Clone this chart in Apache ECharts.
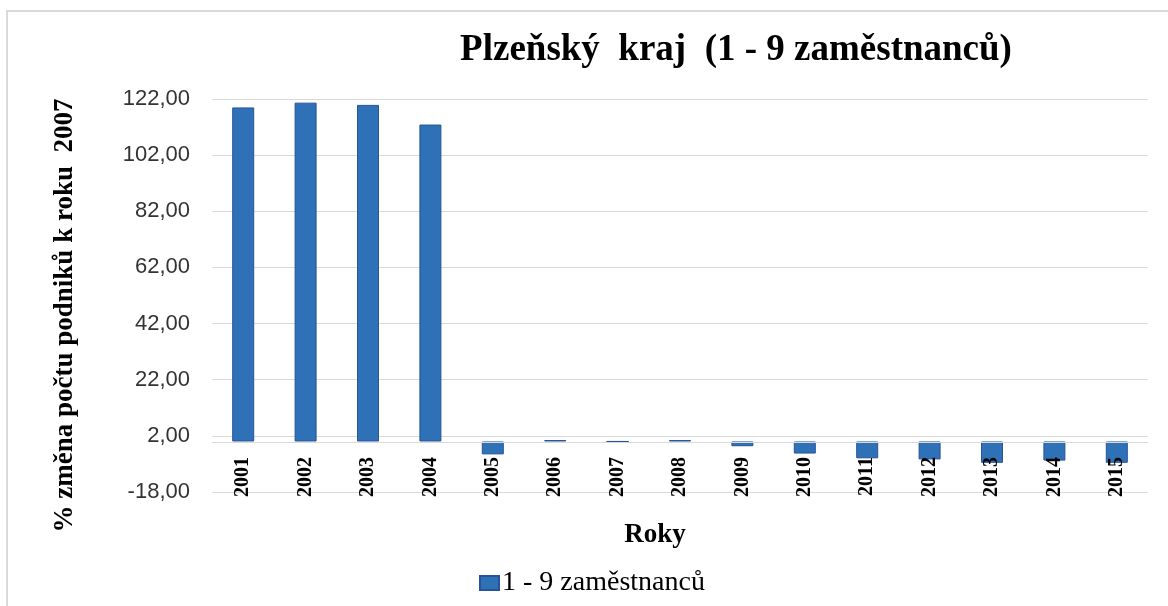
<!DOCTYPE html>
<html>
<head>
<meta charset="utf-8">
<script src="https://cdn.jsdelivr.net/npm/echarts@6/dist/echarts.min.js"></script>
<style>
  html, body { margin: 0; padding: 0; background: #fff; }
  .frame {
    position: absolute;
    left: 6px;
    top: 10px;
    width: 1168px;
    height: 606px;
    border-top: 2px solid #d9d9d9;
    border-left: 2px solid #d9d9d9;
  }
  #myChart { position: absolute; left: 0; top: 0; width: 1168px; height: 606px; }
</style>
</head>
<body>
<div class="frame"></div>
<div id="myChart"></div>
<script>
// roky
var years = ["2001", "2002", "2003", "2004", "2005", "2006", "2007", "2008",
  "2009", "2010", "2011", "2012", "2013", "2014", "2015"];
// % změna počtu podniků k roku 2007
var values = [119.0, 120.7, 119.9, 112.9, -4.6, 0.5, 0, 0.5,
  -1.7, -4.3, -6.0, -6.4, -7.6, -6.8, -7.6];
var yMin = -18;
var yMax = 122;
var yStep = 20;

var serif = "'Liberation Serif', 'DejaVu Serif', serif";

var myChart = echarts.init(document.getElementById("myChart"));
var option = {
  animation: false,
  title: {
    text: "Plzeňský  kraj  (1 - 9 zaměstnanců)",
    left: 731,
    top: 27,
    textAlign: "center",
    textStyle: {
      fontFamily: serif,
      fontSize: 37,
      fontWeight: "bold",
      color: "#000"
    }
  },
  legend: {
    data: ["1 - 9 zaměstnanců"],
    left: 474,
    top: 564,
    itemWidth: 19,
    itemHeight: 14,
    itemGap: 3,
    icon: "rect",
    textStyle: {
      fontFamily: serif,
      fontSize: 28,
      color: "#000",
      padding: [0, 0, 0, -2]
    }
  },
  grid: {
    left: 212,
    right: 20,
    top: 99,
    bottom: 114,
    outerBoundsMode: "none"
  },
  xAxis: {
    type: "category",
    data: years,
    z: 5, // labels drawn over the bars
    // axis sits on the zero line (50px above the grid bottom)
    offset: -50,
    name: "Roky",
    nameLocation: "middle",
    nameGap: 80,
    nameTextStyle: {
      fontFamily: serif,
      fontSize: 27,
      fontWeight: "bold",
      color: "#000",
      padding: [0, 50, 0, 0]
    },
    axisTick: { show: false },
    axisLine: { onZero: false, lineStyle: { color: "#d9d9d9", width: 1 } },
    axisLabel: {
      rotate: 90,
      margin: 15,
      interval: 0,
      fontFamily: serif,
      fontSize: 20,
      fontWeight: "bold",
      color: "#000"
    }
  },
  yAxis: {
    type: "value",
    min: yMin,
    max: yMax,
    interval: yStep,
    name: "% změna počtu podniků k roku  2007",
    nameLocation: "middle",
    nameGap: 133,
    nameTextStyle: {
      fontFamily: serif,
      fontSize: 27,
      fontWeight: "bold",
      color: "#000",
      padding: [0, 40, 0, 0]
    },
    axisLine: { show: false },
    axisTick: { show: false },
    splitLine: { lineStyle: { color: "#d9d9d9", width: 1 } },
    axisLabel: {
      margin: 22,
      fontFamily: "'Liberation Sans', Arial, sans-serif",
      fontSize: 22,
      color: "#333",
      formatter: function (v) {
        return v.toFixed(2).replace(".", ",");
      }
    }
  },
  series: [
    {
      name: "1 - 9 zaměstnanců",
      type: "bar",
      barWidth: 22,
      data: values,
      itemStyle: {
        color: "#2e71b7",
        borderColor: "#28539a",
        borderWidth: 1
      }
    }
  ]
};
myChart.setOption(option);
</script>
</body>
</html>
